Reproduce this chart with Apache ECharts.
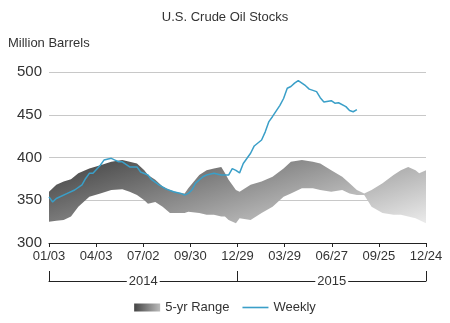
<!DOCTYPE html>
<html><head><meta charset="utf-8">
<script src="https://cdn.jsdelivr.net/npm/echarts@6/dist/echarts.min.js"></script>
<style>html,body{margin:0;padding:0;background:#fff}#c{width:450px;height:323px}</style>
</head><body><div id="c"></div>
<script>
const chartTitle = 'U.S. Crude Oil Stocks';
const yAxisName = 'Million Barrels';
const xTickLabels = ['01/03','04/03','07/02','09/30','12/29','03/29','06/27','09/25','12/24'];
const yearLabels = ['2014','2015'];
// days since 2014-01-03
const bandDays = [0,14,28,42,56,77,98,119,140,154,168,182,189,203,217,231,245,259,266,287,301,315,329,336,343,357,364,385,406,427,448,462,483,504,518,539,560,574,588,602,616,637,658,672,686,700,707,720];
const bandHigh = [360,368,372,374.5,381.5,387,391,395,397,395,393,385,379.5,374,366,362,359,358,364,379.5,385,387,389,382,374,362,360,368,372,377.5,387,395,397,395,393,385,377.5,370,362,358,362,370,379.5,385,389,385,381.5,385];
const bandLow = [325,326,327,331,342.5,354,358,362,363,360,356,350,346,348,342.5,335,335,335,336.5,335,333,333,331,331,327,323,329,327,335,342.5,354,358,364,364,362,360,362,358,356,356,342.5,335,333,333,331,329,327,323];
const weeklyDays = [0,7,14,35,49,63,70,77,84,98,105,119,126,133,140,154,168,175,189,196,210,224,238,252,259,266,273,280,294,301,315,329,336,343,350,357,364,371,385,392,406,413,420,427,441,448,455,462,469,476,483,490,497,511,518,525,539,546,553,567,574,581,588];
const weeklyValues = [354,348,352,358,362,368,375.5,381.5,381.5,391,397,399,397,395,395,389,389,383,379.5,374,368,363,360,358,356,358,362,370,377.5,379.5,381.5,379.5,379.5,379.5,387,385,382,393,405,413.5,420.5,430,442,448,461,469,481,483,487,490,487,484,480,477,470,465,466.5,463.5,464,459.5,455,453.5,456];

const FONT = "'Liberation Sans', Arial, sans-serif";
const TXT = '#333';
const LINE_COLOR = '#3a9fc8';
const chart = echarts.init(document.getElementById('c'));
const bandFill = {type:'linear', x:100, y:139, x2:157, y2:319, global:true,
  colorStops:[{offset:0,color:'#3a3a3a'},{offset:1,color:'#f5f5f5'}]};

chart.setOption({
  animation:false,
  backgroundColor:'#fff',
  textStyle:{fontFamily:FONT},
  title:[
    {text:chartTitle, left:'center', top:11, padding:0, textStyle:{fontSize:13, fontWeight:'normal', color:TXT, fontFamily:FONT}},
    {text:yAxisName, left:8, top:37, padding:0, textStyle:{fontSize:13, fontWeight:'normal', color:TXT, fontFamily:FONT}}
  ],
  grid:{left:49, right:24, top:72, bottom:80, containLabel:false},
  legend:{
    bottom:4, left:'center', itemWidth:26, itemHeight:8, itemGap:13,
    textStyle:{fontSize:13, color:TXT, fontFamily:FONT},
    data:[
      {name:'5-yr Range', icon:'rect', itemStyle:{color:{type:'linear',x:0,y:0,x2:1,y2:0,colorStops:[{offset:0,color:'#444'},{offset:1,color:'#bbb'}]}}},
      {name:'Weekly', icon:'path://M0,0H26V1.6H0Z', itemStyle:{color:LINE_COLOR}}
    ]
  },
  xAxis:[
    {type:'value', min:0, max:720, interval:90,
     axisLine:{show:true, lineStyle:{color:'#222', width:1}},
     axisTick:{show:true, length:4, lineStyle:{color:'#222'}},
     splitLine:{show:false},
     axisLabel:{fontSize:13, color:TXT, margin:7, fontFamily:FONT, showMinLabel:true, showMaxLabel:true,
       formatter:(v)=>xTickLabels[Math.round(v/90)]}},
    {type:'category', data:yearLabels, position:'bottom', offset:38, boundaryGap:true,
     axisLine:{show:true, lineStyle:{color:'#222', width:1}},
     axisTick:{show:true, inside:true, length:10, interval:0, lineStyle:{color:'#222'}},
     axisLabel:{fontSize:13, color:TXT, margin:0, verticalAlign:'middle', backgroundColor:'#fff', padding:[0,2], fontFamily:FONT},
     splitLine:{show:false}}
  ],
  yAxis:{type:'value', min:300, max:500, interval:50,
    axisLine:{show:false}, axisTick:{show:false},
    axisLabel:{fontSize:15, color:TXT, margin:7, fontFamily:FONT},
    splitLine:{show:true, lineStyle:{color:'#c8c8c8', width:1}}},
  series:[
    {type:'custom', name:'5-yr Range', xAxisIndex:0, yAxisIndex:0, z:2,
     itemStyle:{color:'#777'},
     data: bandDays.map((d,i)=>[d, bandLow[i], bandHigh[i]]),
     encode:{x:0, y:[1,2]},
     renderItem:function(params, api){
       if (params.dataIndex !== 0) return null;
       const top = bandDays.map((d,i)=>api.coord([d, bandHigh[i]]));
       const bot = bandDays.map((d,i)=>api.coord([d, bandLow[i]])).reverse();
       return {type:'polygon', shape:{points: top.concat(bot)}, style:{fill: bandFill, stroke:null}};
     }},
    {type:'line', name:'Weekly', xAxisIndex:0, yAxisIndex:0, z:3,
     data: weeklyDays.map((d,i)=>[d, weeklyValues[i]]),
     showSymbol:false, symbol:'none',
     lineStyle:{color:LINE_COLOR, width:1.5},
     itemStyle:{color:LINE_COLOR}}
  ]
});
</script>
</body></html>
